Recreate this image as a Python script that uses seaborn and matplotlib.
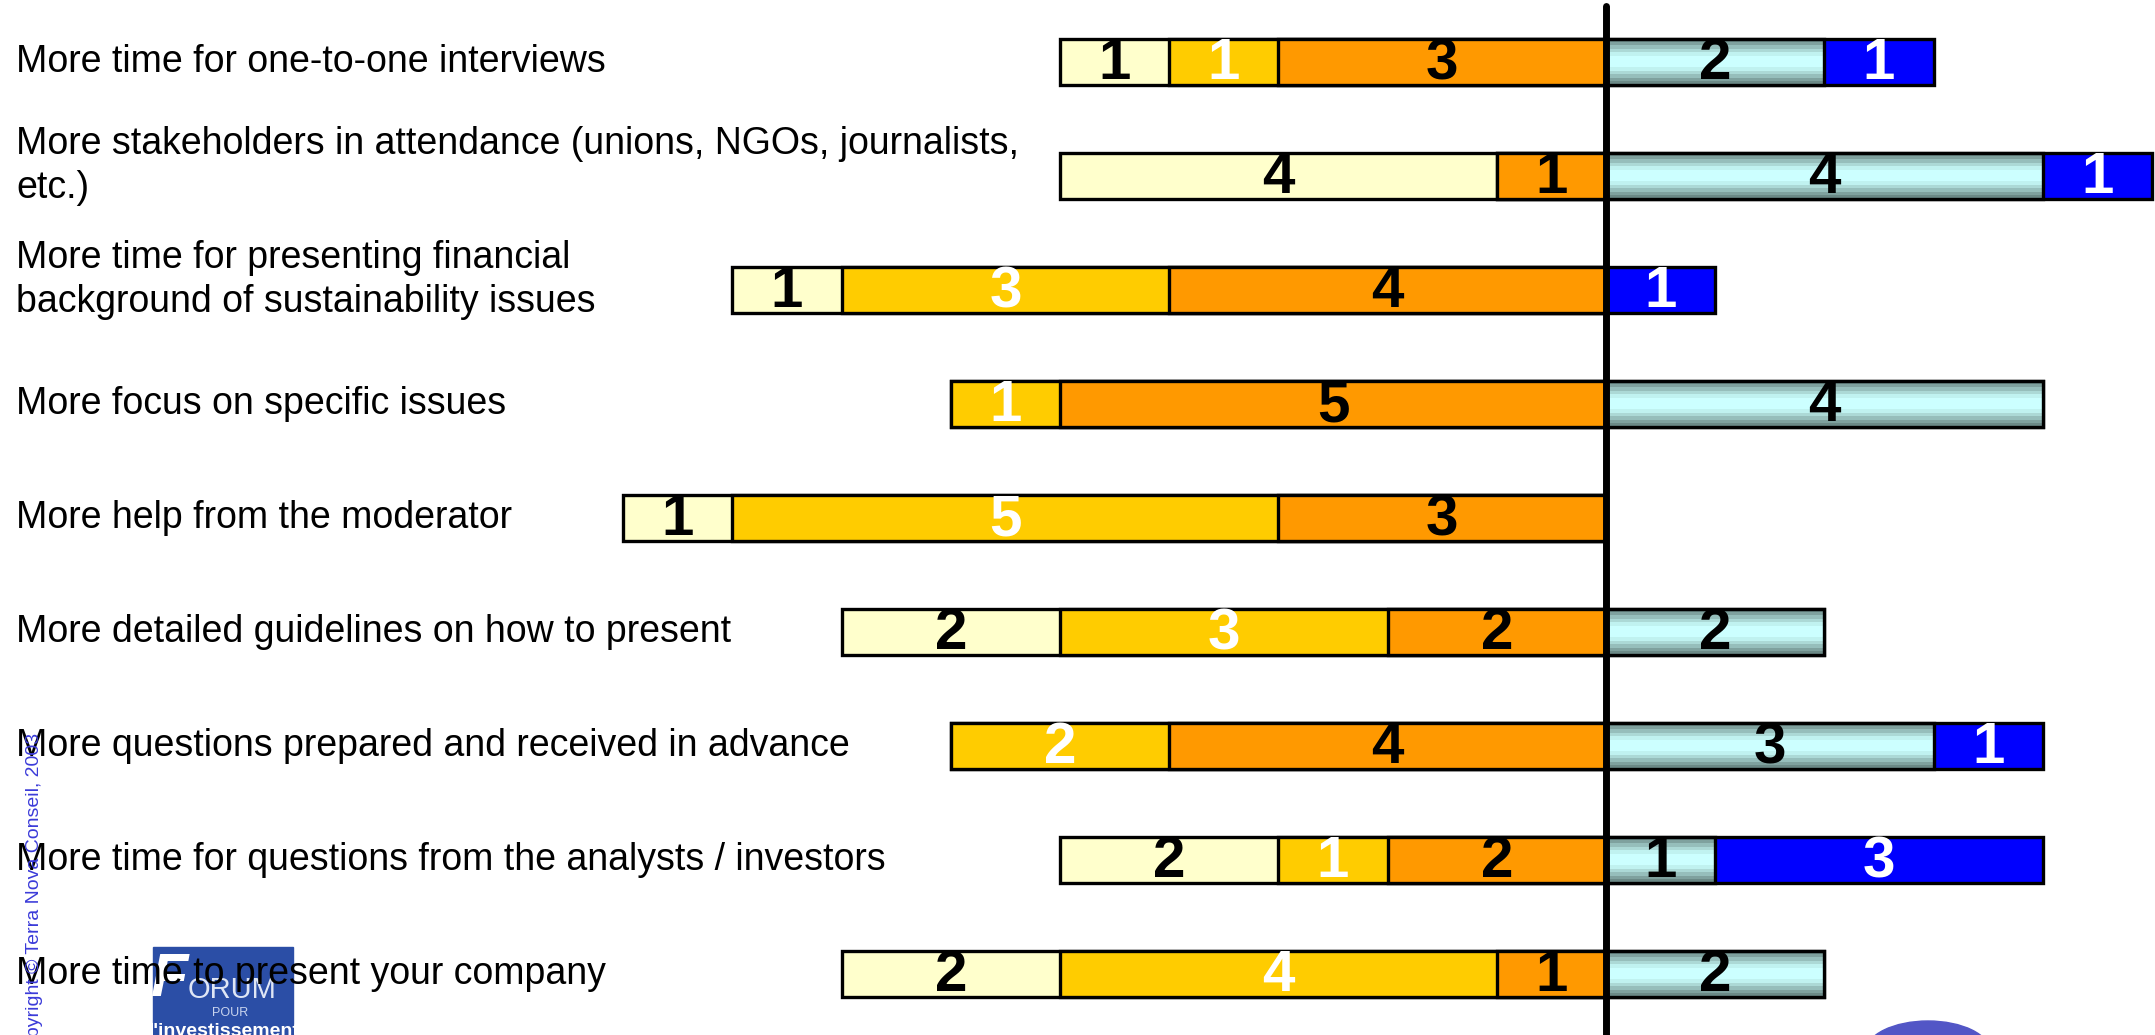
"""
Diverging stacked bars: what participants would like to see improved.
"""
import matplotlib
matplotlib.use("Agg")
import matplotlib.pyplot as plt
import matplotlib.colors as mcolors
from matplotlib.patches import Rectangle, Ellipse
import numpy as np
import pandas as pd
import seaborn as sns

labels = [
    "More time for one-to-one interviews",
    "More stakeholders in attendance (unions, NGOs, journalists,\netc.)",
    "More time for presenting financial\nbackground of sustainability issues",
    "More focus on specific issues",
    "More help from the moderator",
    "More detailed guidelines on how to present",
    "More questions prepared and received in advance",
    "More time for questions from the analysts / investors",
    "More time to present your company",
]
# left side (outermost -> centre), right side (centre -> outermost)
very_low = [1, 4, 1, 0, 1, 2, 0, 2, 2]
low = [1, 0, 3, 1, 5, 3, 2, 1, 4]
medium = [3, 1, 4, 5, 3, 2, 4, 2, 1]
high = [2, 4, 0, 4, 0, 2, 3, 1, 2]
very_high = [1, 1, 1, 0, 0, 0, 1, 3, 0]

C_VLOW, C_LOW, C_MED, C_VHIGH = "#FFFFCC", "#FFCC00", "#FF9900", "#0000FF"
BANDS = ["#6b8986", "#7fa19e", "#96bebb", "#acd9d6", "#c0f2f0", "#ccffff",
         "#ccffff", "#ccffff", "#c0f2f0", "#acd9d6", "#96bebb", "#7fa19e",
         "#6b8986"]

W, H, DPI = 2155, 1035, 100
X0_PX, UNIT_PX = 1606, 109.2
ROW0_PX, ROW_PX = 62, 114

sns.set_theme(style="white")
plt.rcParams["font.family"] = ["Liberation Sans", "DejaVu Sans"]

df = pd.DataFrame({
    "label": labels,
    "very_low": very_low, "low": low, "medium": medium,
    "high": high, "very_high": very_high,
})
df["left_all"] = -(df.very_low + df.low + df.medium)
df["left_lm"] = -(df.low + df.medium)
df["left_m"] = -df.medium
df["right_all"] = df.high + df.very_high
df["right_h"] = df.high

fig = plt.figure(figsize=(W / DPI, H / DPI), dpi=DPI)
ax = fig.add_axes([0, 0, 1, 1])
ax.patch.set_alpha(0)

bar_kw = dict(y="label", orient="h", width=0.41, saturation=1,
              edgecolor="black", linewidth=2.4, ax=ax, errorbar=None)
# painter's trick: widest first, narrower on top
for col, colr in [("left_all", C_VLOW), ("left_lm", C_LOW),
                  ("left_m", C_MED), ("right_all", C_VHIGH)]:
    sns.barplot(data=df, x=col, color=colr, **bar_kw)

n_before = len(ax.patches)
sns.barplot(data=df, x="right_h", color="#ccffff", **bar_kw)
cyan_patches = ax.patches[n_before:]

grad = np.array([mcolors.to_rgb(c) for c in BANDS])[:, None, :]
for p in cyan_patches:
    if p.get_width() <= 0:
        continue
    x, y, w, h = p.get_x(), p.get_y(), p.get_width(), p.get_height()
    ax.imshow(grad, extent=(x, x + w, y + h, y), aspect="auto",
              interpolation="nearest", zorder=p.get_zorder() + 0.1)
    p.set_facecolor("none")
    p.set_zorder(p.get_zorder() + 0.2)

# numbers in segments
num_font = dict(family=["Liberation Sans Narrow", "Liberation Sans"],
                fontweight="bold", fontsize=42, ha="center", va="center",
                zorder=6)
for i, r in df.iterrows():
    segs = [
        (r.left_lm - r.very_low / 2, r.very_low, "black"),
        (r.left_m - r.low / 2, r.low, "white"),
        (-r.medium / 2, r.medium, "black"),
        (r.high / 2, r.high, "black"),
        (r.high + r.very_high / 2, r.very_high, "white"),
    ]
    for cx, v, tc in segs:
        if v > 0:
            ax.text(cx, i + 0.02, f"{v}", color=tc, **num_font)

# category labels
for i, lab in enumerate(labels):
    dy = -0.09 if "\n" in lab else 0
    ax.text(16 / W, i + dy, lab, transform=ax.get_yaxis_transform(),
            ha="left", va="center", fontsize=27, color="black",
            linespacing=1.3, zorder=7)

ax.axvline(0, ymin=0, ymax=1 - 6 / H, color="black", lw=5,
           solid_capstyle="round", zorder=5)

ax.set_xlim(-X0_PX / UNIT_PX, (W - X0_PX) / UNIT_PX)
ax.set_ylim(8 + (H - ROW0_PX - 8 * ROW_PX) / ROW_PX, -ROW0_PX / ROW_PX)
ax.axis("off")

# logo bottom-left (behind the labels)
fig.patches.append(Rectangle((153 / W, 0), 140 / W, 88 / H,
                             transform=fig.transFigure, color="#2b4ea6",
                             zorder=-2))
fig.text(170 / W, 1 - 980 / H, "F", color="white", fontsize=44,
         fontstyle="italic", fontweight="bold", ha="center", va="center",
         zorder=-1)
fig.text(232 / W, 1 - 990 / H, "ORUM", color="#dfe6f5", fontsize=21,
         ha="center", va="center", zorder=-1)
fig.text(230 / W, 1 - 1013 / H, "POUR", color="#c9d4ee", fontsize=9,
         ha="center", va="center", zorder=-1)
fig.text(224 / W, 1 - 1032 / H, "l'investissement", color="white",
         fontsize=14, fontweight="bold", ha="center", va="center", zorder=-1)

# partial logo bottom-right
fig.patches.append(Ellipse((1928 / W, 1 - 1052 / H), 125 / W, 62 / H,
                           transform=fig.transFigure, color="#5256c6",
                           zorder=-2))

fig.text(35 / W, 1 - 733 / H, "Copyright © Terra Nova Conseil, 2003",
         rotation=90, ha="center", va="top", color="#3b3bd9", fontsize=14,
         zorder=8)

fig.savefig("out.png", dpi=DPI)
